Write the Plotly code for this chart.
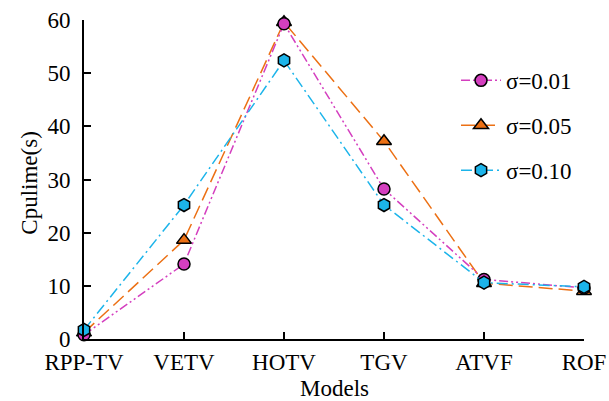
import plotly.graph_objects as go

models = ["RPP-TV", "VETV", "HOTV", "TGV", "ATVF", "ROF"]
s001 = [0.8, 14.1, 59.3, 28.2, 11.2, 9.6]
s005 = [1.2, 18.6, 59.6, 37.2, 10.5, 9.0]
s010 = [1.7, 25.2, 52.4, 25.2, 10.6, 9.8]
names = ["σ=0.01", "σ=0.05", "σ=0.10"]

xs = list(range(len(models)))
fig = go.Figure()
styles = {
    0: (s001, "#d43fbf", "circle", "9px,3px,2px,3px,2px,3px", 12),
    1: (s005, "#ec7014", "triangle-up", "14px,6px", 13),
    2: (s010, "#1cb4ea", "hexagon", "11px,4px,2px,4px", 13),
}
# draw order: orange, magenta, cyan (cyan on top)
for i in [1, 0, 2]:
    vals, col, sym, dash, sz = styles[i]
    fig.add_trace(go.Scatter(
        x=xs, y=vals, name=names[i], legendrank=i + 1, legendgroup=names[i],
        mode="lines+markers", cliponaxis=False,
        line=dict(color=col, width=1.5, dash=dash),
        marker=dict(symbol=sym, size=sz, color=col, line=dict(color="black", width=1.5)),
    ))

family = "Liberation Serif, Times New Roman, serif"
font = dict(family=family, size=23, color="black")
axis_common = dict(showgrid=False, zeroline=False, showline=True, linecolor="black",
                   linewidth=2, ticks="inside", ticklen=7, tickwidth=1.5,
                   tickcolor="black", automargin=False)
fig.update_layout(
    width=609, height=401,
    margin=dict(l=84, r=25, t=20, b=62),
    plot_bgcolor="white", paper_bgcolor="white",
    font=font,
    showlegend=True,
    legend=dict(x=0.744, y=0.878, xanchor="left", yanchor="top",
                bgcolor="rgba(0,0,0,0)", font=dict(family=family, size=23),
                itemwidth=40, tracegroupgap=12),
    xaxis=dict(range=[0, 5], tickvals=xs, ticktext=models, ticklabelstandoff=1,
               **axis_common),
    yaxis=dict(range=[0, 60], dtick=10, ticklabelstandoff=7, **axis_common),
    annotations=[
        dict(text="Models", xref="paper", yref="paper", x=0.5, y=-0.154,
             xanchor="center", yanchor="middle", showarrow=False,
             font=dict(family=family, size=23)),
        dict(text="Cpulime(s)", xref="paper", yref="paper", x=-0.108, y=0.49,
             xanchor="center", yanchor="middle", textangle=-90, showarrow=False,
             font=dict(family=family, size=23)),
    ],
)
fig.write_html("out.html", config={"displayModeBar": False},
               post_script="document.body.style.margin='0';document.body.style.overflow='hidden';")
